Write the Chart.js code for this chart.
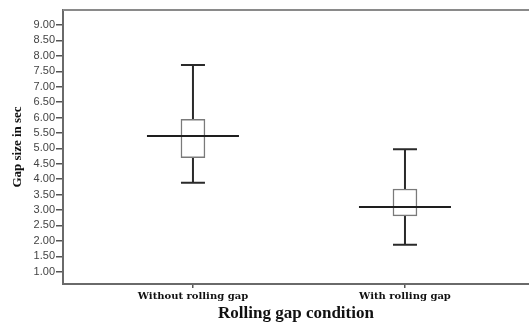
<!DOCTYPE html>
<html>
<head>
<meta charset="utf-8">
<script src="https://cdn.jsdelivr.net/npm/chart.js@4"></script>
<style>
  html, body { margin: 0; padding: 0; background: #fff; }
  #wrap { width: 529px; height: 323px; }
</style>
</head>
<body>
<div id="wrap"><canvas id="boxCanvas"></canvas></div>
<script>
const categories = ["Without rolling gap", "With rolling gap"];
const whiskerLow = [3.88, 1.87];
const quartile1 = [4.70, 2.81];
const medians = [5.40, 3.10];
const quartile3 = [5.94, 3.68];
const whiskerHigh = [7.70, 4.97];
const yTicks = [1.0, 1.5, 2.0, 2.5, 3.0, 3.5, 4.0, 4.5, 5.0, 5.5, 6.0, 6.5, 7.0, 7.5, 8.0, 8.5, 9.0];

document.addEventListener("DOMContentLoaded", function () {
    const canvas = document.getElementById("boxCanvas");

    // whiskers, caps, medians and the top frame line
    const boxLines = {
        id: "boxLines",
        beforeDatasetsDraw(chart) {
            const ctx = chart.ctx;
            const xs = chart.scales.x;
            const ys = chart.scales.y;
            const area = chart.chartArea;
            ctx.save();
            ctx.strokeStyle = "#8a8a8a";
            ctx.lineWidth = 2;
            ctx.beginPath();
            ctx.moveTo(area.left, area.top);
            ctx.lineTo(area.right, area.top);
            ctx.stroke();

            ctx.strokeStyle = "#2a2a2a";
            ctx.lineWidth = 2;
            categories.forEach(function (c, i) {
                const x = xs.getPixelForValue(i + 1);
                ctx.beginPath();
                ctx.moveTo(x, ys.getPixelForValue(whiskerHigh[i]));
                ctx.lineTo(x, ys.getPixelForValue(quartile3[i]));
                ctx.moveTo(x, ys.getPixelForValue(quartile1[i]));
                ctx.lineTo(x, ys.getPixelForValue(whiskerLow[i]));
                ctx.moveTo(x - 12, ys.getPixelForValue(whiskerHigh[i]));
                ctx.lineTo(x + 12, ys.getPixelForValue(whiskerHigh[i]));
                ctx.moveTo(x - 12, ys.getPixelForValue(whiskerLow[i]));
                ctx.lineTo(x + 12, ys.getPixelForValue(whiskerLow[i]));
                ctx.stroke();
            });
            ctx.restore();
        },
        afterDatasetsDraw(chart) {
            const ctx = chart.ctx;
            const xs = chart.scales.x;
            const ys = chart.scales.y;
            ctx.save();
            ctx.strokeStyle = "#1e1e1e";
            ctx.lineWidth = 2;
            categories.forEach(function (c, i) {
                const x = xs.getPixelForValue(i + 1);
                const y = ys.getPixelForValue(medians[i]);
                ctx.beginPath();
                ctx.moveTo(x - 46, y);
                ctx.lineTo(x + 46, y);
                ctx.stroke();
            });
            ctx.restore();
        }
    };

    new Chart(canvas, {
        type: "bar",
        data: {
            datasets: [{
                data: categories.map(function (c, i) {
                    return { x: i + 1, y: [quartile1[i], quartile3[i]] };
                }),
                backgroundColor: "#ffffff",
                borderColor: "#7a7a7a",
                borderWidth: 1.5,
                borderSkipped: false,
                barThickness: 24
            }]
        },
        options: {
            responsive: true,
            maintainAspectRatio: false,
            animation: false,
            layout: { padding: { top: 10, right: 0, left: 0, bottom: 0 } },
            plugins: {
                legend: { display: false },
                tooltip: { enabled: false }
            },
            scales: {
                x: {
                    type: "linear",
                    offset: false,
                    min: 0.387,
                    max: 2.585,
                    afterBuildTicks: function (axis) {
                        axis.ticks = categories.map(function (c, i) { return { value: i + 1 }; });
                    },
                    afterFit: function (axis) { axis.height = 39; },
                    ticks: {
                        autoSkip: false,
                        maxRotation: 0,
                        padding: 2,
                        color: "#111",
                        font: { family: "DejaVu Serif", size: 10, weight: "bold" },
                        callback: function (v) { return categories[v - 1]; }
                    },
                    grid: { offset: false, drawOnChartArea: false, drawTicks: true, tickLength: 4, color: "#555", lineWidth: 1.5 },
                    border: { display: true, color: "#6a6a6a", width: 2 },
                    title: {
                        display: true,
                        text: "Rolling gap condition",
                        color: "#111",
                        padding: { top: 1, bottom: 0 },
                        font: { family: "Liberation Serif", size: 17, weight: "bold", lineHeight: 1.05 }
                    }
                },
                y: {
                    min: 0.60,
                    max: 9.487,
                    afterBuildTicks: function (axis) {
                        axis.ticks = yTicks.map(function (v) { return { value: v }; });
                    },
                    afterFit: function (axis) { axis.width = 63; },
                    ticks: {
                        padding: 1,
                        color: "#444",
                        font: { family: "Liberation Sans", size: 11 },
                        callback: function (v) { return Number(v).toFixed(2); }
                    },
                    grid: { drawOnChartArea: false, drawTicks: true, tickLength: 7, color: "#555", lineWidth: 1.5 },
                    border: { display: true, color: "#6a6a6a", width: 2 },
                    title: {
                        display: true,
                        text: "Gap size in sec",
                        color: "#111",
                        padding: { top: 10, bottom: 2 },
                        font: { family: "Liberation Serif", size: 13, weight: "bold" }
                    }
                }
            }
        },
        plugins: [boxLines]
    });
});
</script>
</body>
</html>
